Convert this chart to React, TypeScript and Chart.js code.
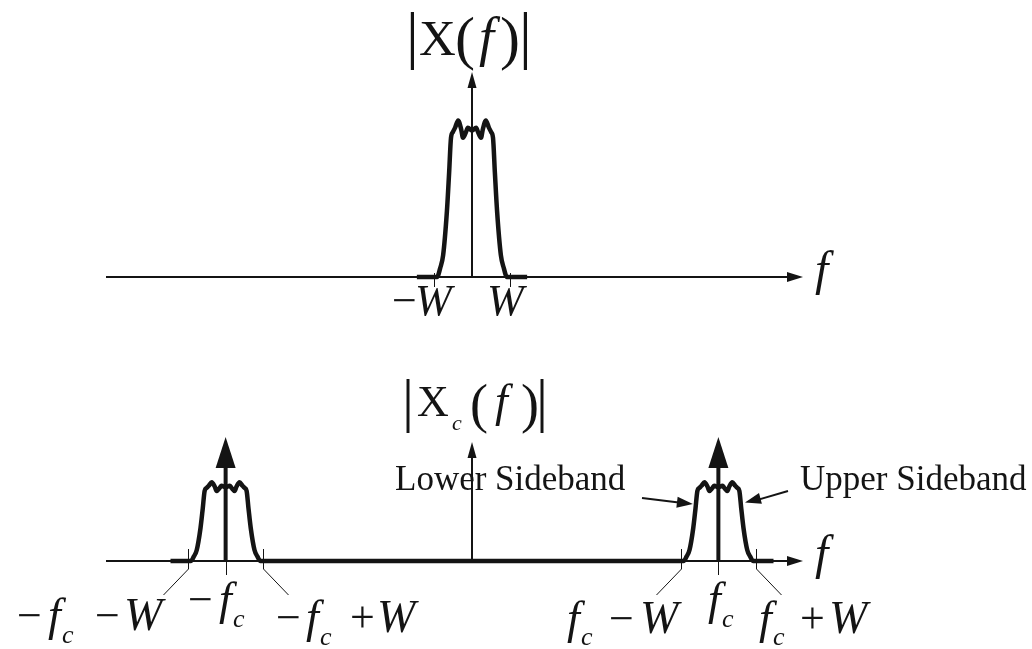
import React, { useEffect, useRef } from "react";
import { Chart, registerables } from "chart.js";

Chart.register(...registerables);

// ---- data -------------------------------------------------------------
// message spectrum |X(f)|: offsets in units of W and normalised magnitude
const shapeOffsetW = [-1.47, -0.93, -0.85, -0.77, -0.67, -0.61, -0.56, -0.51, -0.45, -0.37, -0.29, -0.24, -0.16, -0.11, 0, 0.11, 0.16, 0.24, 0.29, 0.37, 0.45, 0.51, 0.56, 0.61, 0.67, 0.77, 0.85, 0.93, 1.47];
const shapeMagnitude = [0, 0, 0.06, 0.15, 0.45, 0.72, 0.96, 1.0, 1.03, 1.08, 1.02, 0.96, 1.0, 1.03, 1.01, 1.03, 1.0, 0.96, 1.02, 1.08, 1.03, 1.0, 0.96, 0.72, 0.45, 0.15, 0.06, 0, 0];
const W = 1;
const fc = 6.57;
const modulatedScale = 0.5; // |Xc(f)| sidebands are half the message amplitude
const carrierImpulse = 0.85; // carrier impulse height
const carriers = [-fc, fc];
const topTicks = [-W, W];
const bottomCenterTicks = [-fc, fc];
const bottomEdgeTicks = [-fc - W, -fc + W, fc - W, fc + W];

// ---- layout constants ---------------------------------------------------
const CW = 1032;
const CH = 649;
const CENTER_PX = 472;
const PX_PER_W = 37.5;
const TOP_BASE_PX = 277;
const TOP_PX_PER_UNIT = 145;
const BOT_BASE_PX = 561;
const BOT_PX_PER_UNIT = 146;
const AXIS_FROM = (106 - CENTER_PX) / PX_PER_W;
const AXIS_TO = (803 - CENTER_PX) / PX_PER_W;
const TOP_VAXIS = (TOP_BASE_PX - 72) / TOP_PX_PER_UNIT;
const BOT_VAXIS = (BOT_BASE_PX - 442) / BOT_PX_PER_UNIT;

const SERIF = '"Liberation Serif", "Times New Roman", serif';
const INK = "#141414";

type Run = { t: string; x: number; y: number; size: number; italic?: boolean };

function drawRuns(ctx: CanvasRenderingContext2D, runs: Run[], ox = 0, oy = 0) {
  ctx.fillStyle = INK;
  ctx.textBaseline = "alphabetic";
  ctx.textAlign = "left";
  for (const r of runs) {
    ctx.font = `${r.italic ? "italic " : ""}${r.size}px ${SERIF}`;
    ctx.fillText(r.t, ox + r.x, oy + r.y);
  }
}

function arrowHead(ctx: CanvasRenderingContext2D, tx: number, ty: number, fx: number, fy: number, len: number, half: number) {
  const a = Math.atan2(ty - fy, tx - fx);
  const bx = tx - len * Math.cos(a);
  const by = ty - len * Math.sin(a);
  const nx = -Math.sin(a) * half;
  const ny = Math.cos(a) * half;
  ctx.beginPath();
  ctx.moveTo(tx, ty);
  ctx.lineTo(bx + nx, by + ny);
  ctx.lineTo(bx - nx, by - ny);
  ctx.closePath();
  ctx.fill();
}

function line(ctx: CanvasRenderingContext2D, x1: number, y1: number, x2: number, y2: number, w: number) {
  ctx.lineWidth = w;
  ctx.beginPath();
  ctx.moveTo(x1, y1);
  ctx.lineTo(x2, y2);
  ctx.stroke();
}

const titleTop: Run[] = [
  { t: "|", x: 406, y: 56, size: 64 },
  { t: "X", x: 419, y: 55, size: 51 },
  { t: "(", x: 455, y: 58, size: 60 },
  { t: "f", x: 479, y: 55, size: 54, italic: true },
  { t: ")", x: 500, y: 58, size: 60 },
  { t: "|", x: 519, y: 56, size: 64 },
];

const titleBot: Run[] = [
  { t: "|", x: 402, y: 420, size: 60 },
  { t: "X", x: 417, y: 416, size: 44 },
  { t: "c", x: 452, y: 430, size: 22, italic: true },
  { t: "(", x: 470, y: 422, size: 54 },
  { t: "f", x: 495, y: 416, size: 46, italic: true },
  { t: ")", x: 521, y: 422, size: 54 },
  { t: "|", x: 536, y: 420, size: 60 },
];

const topLabels: Run[] = [
  { t: "\u2212", x: 392, y: 315, size: 44 },
  { t: "W", x: 415, y: 315, size: 44, italic: true },
  { t: "W", x: 487, y: 315, size: 44, italic: true },
];

const bottomLabels: Run[] = [
  // -fc - W
  { t: "\u2212", x: 17, y: 630, size: 44 },
  { t: "f", x: 48, y: 630, size: 46, italic: true },
  { t: "c", x: 62, y: 643, size: 26, italic: true },
  { t: "\u2212", x: 95, y: 630, size: 44 },
  { t: "W", x: 124, y: 630, size: 46, italic: true },
  // -fc
  { t: "\u2212", x: 188, y: 614, size: 44 },
  { t: "f", x: 219, y: 614, size: 46, italic: true },
  { t: "c", x: 233, y: 627, size: 26, italic: true },
  // -fc + W
  { t: "\u2212", x: 276, y: 632, size: 44 },
  { t: "f", x: 306, y: 632, size: 46, italic: true },
  { t: "c", x: 320, y: 645, size: 26, italic: true },
  { t: "+", x: 350, y: 632, size: 44 },
  { t: "W", x: 377, y: 632, size: 46, italic: true },
  // fc - W
  { t: "f", x: 567, y: 633, size: 46, italic: true },
  { t: "c", x: 581, y: 645, size: 26, italic: true },
  { t: "\u2212", x: 609, y: 633, size: 44 },
  { t: "W", x: 640, y: 633, size: 46, italic: true },
  // fc
  { t: "f", x: 708, y: 614, size: 46, italic: true },
  { t: "c", x: 722, y: 627, size: 26, italic: true },
  // fc + W
  { t: "f", x: 759, y: 633, size: 46, italic: true },
  { t: "c", x: 773, y: 645, size: 26, italic: true },
  { t: "+", x: 800, y: 633, size: 44 },
  { t: "W", x: 829, y: 633, size: 46, italic: true },
];

const otherText: Run[] = [
  { t: "f", x: 815, y: 285, size: 48, italic: true },
  { t: "f", x: 815, y: 569, size: 48, italic: true },
  { t: "Lower Sideband", x: 395, y: 490, size: 35 },
  { t: "Upper Sideband", x: 800, y: 490, size: 35 },
];

const diagramPlugin = {
  id: "diagram",
  beforeDatasetsDraw(chart: any) {
    const ctx: CanvasRenderingContext2D = chart.ctx;
    const xs = chart.scales.x;
    const yt = chart.scales.yTop;
    const yb = chart.scales.yBot;
    ctx.save();
    ctx.strokeStyle = INK;
    ctx.fillStyle = INK;
    ctx.lineCap = "butt";
    const x0 = xs.getPixelForValue(AXIS_FROM);
    const x1 = xs.getPixelForValue(AXIS_TO);
    const xc = xs.getPixelForValue(0);
    // top axes
    const ty0 = yt.getPixelForValue(0);
    line(ctx, x0, ty0, x1 - 12, ty0, 2);
    arrowHead(ctx, x1, ty0, x0, ty0, 16, 5);
    const tyV = yt.getPixelForValue(TOP_VAXIS);
    line(ctx, xc, ty0, xc, tyV + 12, 2);
    arrowHead(ctx, xc, tyV, xc, ty0, 16, 4.5);
    for (const v of topTicks) {
      const px = Math.round(xs.getPixelForValue(v)) + 0.5;
      line(ctx, px, ty0 - 4, px, ty0 + 10, 1);
    }
    // bottom axes
    const by0 = yb.getPixelForValue(0);
    line(ctx, x0, by0, x1 - 12, by0, 2);
    arrowHead(ctx, x1, by0, x0, by0, 16, 5);
    const byV = yb.getPixelForValue(BOT_VAXIS);
    line(ctx, xc, by0, xc, byV + 12, 2);
    arrowHead(ctx, xc, byV, xc, by0, 16, 4.5);
    for (const v of bottomCenterTicks) {
      const px = Math.round(xs.getPixelForValue(v)) + 0.5;
      line(ctx, px, by0, px, by0 + 14, 1);
    }
    for (const v of bottomEdgeTicks) {
      const px = Math.round(xs.getPixelForValue(v)) + 0.5;
      const nearest = carriers.reduce((a, b) => (Math.abs(b - v) < Math.abs(a - v) ? b : a));
      const dir = v < nearest ? -1 : 1;
      ctx.lineWidth = 1;
      ctx.beginPath();
      ctx.moveTo(px, by0 - 12);
      ctx.lineTo(px, by0 + 8);
      ctx.lineTo(px + dir * 25, by0 + 34);
      ctx.stroke();
    }
    ctx.restore();
  },
  afterDatasetsDraw(chart: any) {
    const ctx: CanvasRenderingContext2D = chart.ctx;
    const xs = chart.scales.x;
    const yb = chart.scales.yBot;
    ctx.save();
    ctx.strokeStyle = INK;
    ctx.fillStyle = INK;
    // carrier impulses
    const by0 = yb.getPixelForValue(0);
    const byI = yb.getPixelForValue(carrierImpulse);
    for (const c of carriers) {
      const px = xs.getPixelForValue(c);
      line(ctx, px, by0, px, byI + 20, 4);
      arrowHead(ctx, px, byI, px, by0, 31, 10);
    }
    // sideband pointers
    const lowTipX = xs.getPixelForValue(fc - 0.68 * W);
    const lowTipY = yb.getPixelForValue(0.39);
    line(ctx, 642, 498, lowTipX - 10, lowTipY - 1, 2);
    arrowHead(ctx, lowTipX, lowTipY, 642, 498, 16, 5.5);
    const upTipX = xs.getPixelForValue(fc + 0.71 * W);
    const upTipY = yb.getPixelForValue(0.4);
    line(ctx, 788, 491, upTipX + 10, upTipY - 2, 2);
    arrowHead(ctx, upTipX, upTipY, 788, 491, 16, 5.5);

    drawRuns(ctx, titleTop);
    drawRuns(ctx, titleBot);
    drawRuns(ctx, topLabels);
    drawRuns(ctx, bottomLabels);
    drawRuns(ctx, otherText);
    ctx.restore();
  },
};

export default function App() {
  const ref = useRef<HTMLCanvasElement | null>(null);
  useEffect(() => {
    if (!ref.current) return;
    const topData = shapeOffsetW.map((o, i) => ({ x: o * W, y: shapeMagnitude[i] }));
    const botData: { x: number; y: number }[] = [];
    for (const c of carriers) {
      shapeOffsetW.forEach((o, i) => botData.push({ x: c + o * W, y: shapeMagnitude[i] * modulatedScale }));
    }
    const common = {
      borderColor: INK,
      borderWidth: 4.5,
      pointRadius: 0,
      fill: false,
      cubicInterpolationMode: "monotone" as const,
      clip: false as const,
    };
    const chart = new Chart(ref.current, {
      type: "line",
      data: {
        datasets: [
          { ...common, label: "|X(f)|", data: topData, yAxisID: "yTop" },
          { ...common, label: "|Xc(f)|", data: botData, yAxisID: "yBot" },
        ],
      },
      options: {
        responsive: false,
        maintainAspectRatio: false,
        devicePixelRatio: 1,
        animation: false,
        events: [],
        layout: { padding: 0 },
        plugins: { legend: { display: false }, tooltip: { enabled: false }, title: { display: false } },
        scales: {
          x: { type: "linear", display: false, min: -CENTER_PX / PX_PER_W, max: (CW - CENTER_PX) / PX_PER_W },
          yTop: {
            type: "linear",
            display: false,
            min: -(CH - TOP_BASE_PX) / TOP_PX_PER_UNIT,
            max: TOP_BASE_PX / TOP_PX_PER_UNIT,
          },
          yBot: {
            type: "linear",
            display: false,
            min: -(CH - BOT_BASE_PX) / BOT_PX_PER_UNIT,
            max: BOT_BASE_PX / BOT_PX_PER_UNIT,
          },
        },
      },
      plugins: [diagramPlugin],
    });
    return () => chart.destroy();
  }, []);
  return (
    <div style={{ position: "fixed", left: 0, top: 0, width: CW, height: CH, background: "#fff" }}>
      <canvas ref={ref} width={CW} height={CH} style={{ display: "block" }} />
    </div>
  );
}
